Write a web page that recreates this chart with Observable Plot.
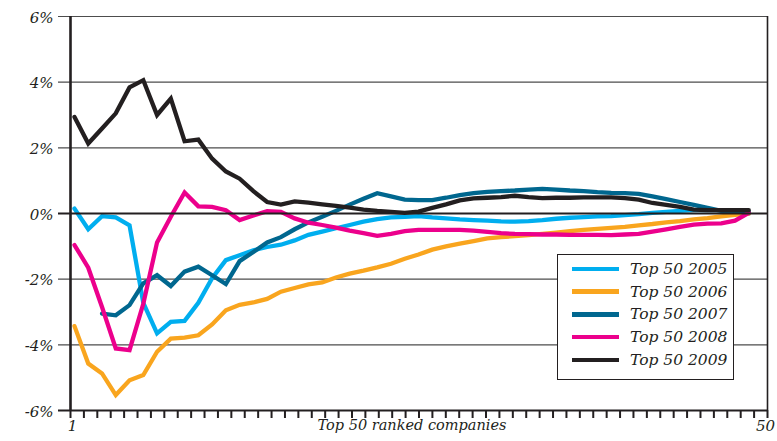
<!DOCTYPE html>
<html><head><meta charset="utf-8">
<script src="https://cdn.jsdelivr.net/npm/d3@7"></script>
<script src="https://cdn.jsdelivr.net/npm/@observablehq/plot@0.6"></script>
<style>
html,body{margin:0;padding:0;background:#fff;}
#wrap{position:relative;width:777px;height:441px;overflow:hidden;}
.legend{position:absolute;left:557px;top:254px;width:177px;height:126px;border:1.5px solid #231f20;background:#fff;box-sizing:border-box;font-family:"DejaVu Serif",serif;font-style:italic;font-size:15.5px;color:#231f20;}
.legend .row{position:absolute;left:14px;height:20px;display:flex;align-items:center;white-space:nowrap;}
.legend .sw{width:47px;height:4.5px;margin-right:11px;}
</style></head>
<body><div id="wrap"></div>
<script>
const ranks = [1,2,3,4,5,6,7,8,9,10,11,12,13,14,15,16,17,18,19,20,21,22,23,24,25,26,27,28,29,30,31,32,33,34,35,36,37,38,39,40,41,42,43,44,45,46,47,48,49,50];
const seriesNames = ["Top 50 2005","Top 50 2006","Top 50 2007","Top 50 2008","Top 50 2009"];
const seriesColors = ["#00aeef","#f9a51e","#00678f","#ec008c","#231f20"];
const top2005 = [0.15,-0.48,-0.08,-0.12,-0.36,-2.72,-3.65,-3.3,-3.27,-2.72,-1.97,-1.42,-1.27,-1.12,-1.02,-0.95,-0.82,-0.65,-0.55,-0.45,-0.35,-0.25,-0.17,-0.12,-0.1,-0.08,-0.12,-0.15,-0.18,-0.2,-0.22,-0.24,-0.25,-0.23,-0.2,-0.16,-0.13,-0.11,-0.09,-0.08,-0.05,-0.02,0.02,0.05,0.08,0.1,0.1,0.1,0.08,0.0];
const top2006 = [-3.43,-4.57,-4.87,-5.53,-5.08,-4.92,-4.21,-3.81,-3.78,-3.71,-3.38,-2.95,-2.78,-2.71,-2.6,-2.38,-2.27,-2.16,-2.1,-1.95,-1.83,-1.74,-1.64,-1.53,-1.38,-1.25,-1.1,-1.0,-0.92,-0.84,-0.76,-0.72,-0.69,-0.66,-0.62,-0.58,-0.54,-0.5,-0.47,-0.44,-0.41,-0.36,-0.32,-0.27,-0.23,-0.18,-0.14,-0.09,-0.04,0.0];
const top2007 = [null,null,-3.05,-3.1,-2.79,-2.13,-1.88,-2.21,-1.77,-1.62,-1.88,-2.15,-1.45,-1.17,-0.88,-0.72,-0.48,-0.27,-0.1,0.08,0.27,0.45,0.62,0.52,0.42,0.41,0.41,0.48,0.56,0.62,0.66,0.68,0.7,0.73,0.75,0.73,0.7,0.68,0.65,0.63,0.62,0.6,0.52,0.44,0.35,0.26,0.17,0.08,0.06,0.05];
const top2008 = [-0.96,-1.65,-2.85,-4.11,-4.16,-2.75,-0.88,-0.1,0.64,0.22,0.2,0.1,-0.2,-0.06,0.07,0.05,-0.15,-0.28,-0.35,-0.43,-0.52,-0.6,-0.68,-0.62,-0.54,-0.5,-0.5,-0.5,-0.5,-0.52,-0.56,-0.6,-0.62,-0.63,-0.64,-0.64,-0.65,-0.65,-0.65,-0.66,-0.64,-0.62,-0.55,-0.48,-0.41,-0.34,-0.31,-0.3,-0.22,0.02];
const top2009 = [2.94,2.13,2.59,3.05,3.84,4.06,3.0,3.5,2.2,2.25,1.67,1.28,1.06,0.68,0.35,0.27,0.37,0.33,0.28,0.23,0.18,0.12,0.08,0.05,0.02,0.06,0.17,0.28,0.4,0.46,0.48,0.5,0.54,0.5,0.47,0.48,0.48,0.49,0.49,0.49,0.47,0.42,0.32,0.26,0.2,0.12,0.1,0.1,0.1,0.1];
const yTicks = [-6,-4,-2,0,2,4,6];
const xTickLabels = ["1","50"];
const xTitle = "Top 50 ranked companies";

const allSeries = [top2005, top2006, top2007, top2008, top2009];
const rows = seriesNames.flatMap((s, k) => allSeries[k].map((v, i) => ({rank: ranks[i], value: v, series: s}))).filter(d => d.value != null);

const xDomain = [0.71, 51.36];
const xTickPos = d3.range(53).map(k => xDomain[0] + k * (xDomain[1] - xDomain[0]) / 52);
const ink = "#231f20";
const font = {fontFamily: "DejaVu Serif", fontStyle: "italic"};

const chart = Plot.plot({
  width: 777, height: 441,
  marginTop: 16, marginBottom: 31, marginLeft: 70, marginRight: 10,
  x: {domain: xDomain, axis: null, label: null},
  y: {domain: [-6, 6], axis: null, label: null},
  color: {domain: seriesNames, range: seriesColors},
  style: {background: "#fff", overflow: "visible"},
  marks: [
    Plot.ruleY(yTicks.filter(d => d !== 0 && d !== -6), {y: d => d, stroke: "#4d4d4d", strokeWidth: 1.1, insetLeft: -12}),
    Plot.ruleX([xDomain[1]], {x: d => d, y1: -6, y2: 6, stroke: ink, strokeWidth: 1.6}),
    Plot.axisX({ticks: xTickPos, tickSize: 8, tickFormat: () => "", label: null, stroke: ink, strokeWidth: 2}),
    Plot.line(rows, {x: "rank", y: "value", z: "series", stroke: "series", strokeWidth: 4.3, strokeLinejoin: "miter", strokeMiterlimit: 3}),
    Plot.ruleY([0], {y: d => d, stroke: ink, strokeWidth: 2.2, insetLeft: -12}),
    Plot.ruleY([-6], {y: d => d, stroke: ink, strokeWidth: 1.8, insetLeft: -12}),
    Plot.ruleX([xDomain[0]], {x: d => d, y1: -6, y2: 6, stroke: ink, strokeWidth: 2.6}),
    Plot.text(yTicks, {x: xDomain[0], y: d => d, text: d => `${d}%`, textAnchor: "end", dx: -17, dy: 1.5, fontSize: 15, fill: ink, ...font}),
    Plot.text([xTickLabels[0]], {x: xDomain[0], frameAnchor: "bottom", text: d => d, dx: 2, dy: 20, fontSize: 15, fill: ink, ...font}),
    Plot.text([xTickLabels[1]], {x: xDomain[1], frameAnchor: "bottom", text: d => d, dx: -2, dy: 20, fontSize: 15, fill: ink, ...font}),
    Plot.text([xTitle], {frameAnchor: "bottom", text: d => d, dx: -7, dy: 19, fontSize: 14.5, fill: ink, ...font})
  ]
});
const wrap = document.getElementById("wrap");
wrap.appendChild(chart);

const legend = document.createElement("div");
legend.className = "legend";
seriesNames.forEach((s, k) => {
  const row = document.createElement("div");
  row.className = "row";
  row.style.top = (4 + k * 22.7) + "px";
  const sw = document.createElement("div");
  sw.className = "sw";
  sw.style.background = seriesColors[k];
  const t = document.createElement("span");
  t.textContent = s;
  row.appendChild(sw); row.appendChild(t);
  legend.appendChild(row);
});
wrap.appendChild(legend);
</script>
</body></html>
